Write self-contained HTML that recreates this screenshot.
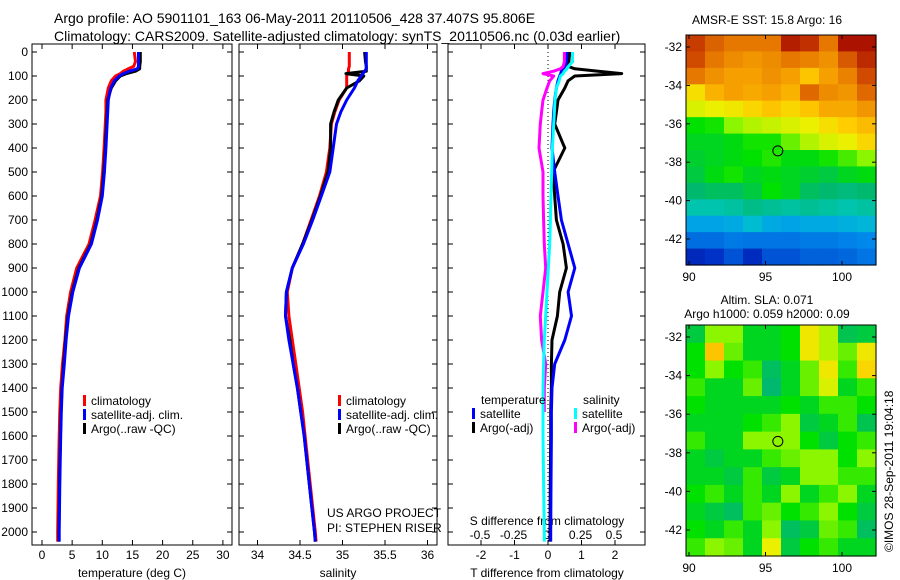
<!DOCTYPE html>
<html><head><meta charset="utf-8"><style>
body{margin:0;background:#fff;}
svg{display:block;font-family:"Liberation Sans",sans-serif;}
</style></head><body>
<svg id="s" width="900" height="580" xmlns="http://www.w3.org/2000/svg"></svg>
<script>
// ---- data ----
const depths=[0,40,60,70,80,90,100,120,150,200,250,300,400,500,600,700,800,900,1000,1100,1200,1300,1400,1500,1600,1800,2000,2040];
const tClim=[15.3,15.5,15.2,14.3,13.5,13,12.2,11.5,11.0,10.6,10.6,10.5,10.3,10.05,9.7,8.8,7.8,5.75,4.75,4.1,3.8,3.4,3.1,2.95,2.85,2.7,2.6,2.6];
const tSat=[16.0,16.0,16.0,15.8,14.5,13.5,12.8,12.0,11.4,11.0,10.9,10.8,10.6,10.35,10.0,9.2,8.2,6.2,5.1,4.4,4.0,3.7,3.35,3.2,3.1,2.95,2.85,2.85];
const tArgo=[16.3,16.3,16.2,16.2,15.5,14,13,12.2,11.5,10.9,10.8,10.7,10.5,10.25,9.9,9.1,8.1,6.1,5.0,4.3,3.9,3.6,3.3,3.15,3.05,2.9,2.8,2.8];
const sClim=[35.08,35.08,35.08,35.07,35.07,35.06,35.05,35.05,35.05,34.96,34.91,34.87,34.85,34.81,34.73,34.63,34.53,34.41,34.35,34.37,34.41,34.45,34.49,34.53,34.56,34.62,34.68,34.69];
const sSat=[35.28,35.28,35.28,35.28,35.26,35.24,35.22,35.18,35.14,35.05,34.98,34.93,34.89,34.85,34.75,34.65,34.54,34.41,34.34,34.33,34.37,34.42,34.47,34.51,34.55,34.61,34.67,34.68];
const sArgo=[35.26,35.27,35.28,35.28,35.28,35.04,35.25,35.2,35.05,34.95,34.9,34.86,34.86,34.83,34.74,34.64,34.53,34.41,34.34,34.33,34.38,34.42,34.47,34.51,34.55,34.61,34.67,34.68];
const dtSat=[0.57,0.55,0.5,0.45,0.4,0.38,0.35,0.3,0.25,0.2,0.17,0.15,0.12,0.2,0.3,0.4,0.6,0.8,0.6,0.7,0.5,0.2,0.12,0.1,0.1,0.09,0.08,0.08];
const dtArgo=[0.65,0.62,0.6,0.8,1.5,2.2,0.8,0.6,0.5,0.3,0.25,0.2,0.5,0.15,0.2,0.25,0.45,0.55,0.35,0.28,0.12,0.1,0.1,0.08,0.08,0.07,0.06,0.06];
const dsSat=[0.19,0.19,0.16,0.15,0.13,0.12,0.1,0.09,0.07,0.06,0.055,0.05,0.04,0.035,0.03,0.025,0.02,0.01,0.0,-0.01,-0.02,-0.025,-0.03,-0.03,-0.03,-0.025,-0.02,-0.02];
const dsArgo=[0.13,0.13,0.12,0.1,0.05,-0.03,0.05,0.02,0.0,-0.03,-0.04,-0.05,-0.06,-0.03,-0.03,-0.025,-0.02,-0.01,-0.03,-0.05,-0.04,-0.01,-0.02,-0.02];
const depthTicks=[0,100,200,300,400,500,600,700,800,900,1000,1100,1200,1300,1400,1500,1600,1700,1800,1900,2000];
const tTicks=[0,5,10,15,20,25,30];
const sTicks=[34,34.5,35,35.5,36];
const dtTicks=[-2,-1,0,1,2];
const dsTicks=[-0.5,-0.25,0,0.25,0.5];
const sstGrid=[
[.9,.85,.82,.82,.82,.95,.92,.82,.97,.97],
[.88,.82,.78,.76,.78,.82,.8,.77,.86,.93],
[.82,.77,.74,.74,.77,.74,.7,.74,.8,.88],
[.67,.72,.74,.73,.74,.72,.84,.78,.76,.84],
[.64,.65,.66,.68,.7,.68,.7,.73,.73,.76],
[.52,.53,.6,.62,.63,.64,.65,.67,.69,.71],
[.5,.5,.51,.53,.53,.58,.62,.64,.65,.68],
[.49,.5,.51,.52,.54,.51,.51,.53,.56,.6],
[.48,.51,.53,.5,.51,.5,.49,.48,.5,.51],
[.45,.46,.46,.48,.52,.5,.46,.45,.44,.45],
[.4,.4,.41,.43,.42,.41,.42,.41,.4,.41],
[.32,.32,.33,.36,.33,.32,.33,.33,.34,.35],
[.24,.24,.26,.25,.25,.25,.26,.26,.27,.28],
[.12,.15,.2,.13,.2,.2,.22,.22,.23,.25]];
const slaGrid=[
[.48,.6,.6,.5,.5,.52,.66,.62,.47,.48],
[.52,.7,.58,.5,.5,.52,.66,.62,.58,.66],
[.52,.6,.52,.55,.46,.5,.58,.66,.55,.68],
[.55,.5,.5,.58,.45,.5,.58,.64,.5,.55],
[.52,.5,.5,.5,.5,.52,.5,.55,.55,.52],
[.5,.5,.5,.52,.55,.6,.48,.5,.55,.47],
[.55,.5,.5,.6,.6,.6,.52,.48,.52,.55],
[.5,.48,.5,.5,.55,.58,.6,.6,.52,.6],
[.5,.5,.48,.55,.48,.5,.6,.6,.55,.55],
[.52,.55,.5,.55,.5,.6,.5,.55,.6,.5],
[.5,.48,.46,.55,.58,.52,.55,.6,.52,.48],
[.52,.5,.55,.5,.6,.46,.48,.58,.55,.46],
[.55,.6,.58,.5,.65,.48,.52,.55,.5,.5]];
const latTicks=[-32,-34,-36,-38,-40,-42];
const lonTicks=[90,95,100];
const argoPos=[95.806,-37.407];

// ---- helpers ----
const S=document.getElementById('s');const NS='http://www.w3.org/2000/svg';
function el(t,a,p){const e=document.createElementNS(NS,t);for(const k in a)e.setAttribute(k,a[k]);(p||S).appendChild(e);return e;}
function txt(x,y,s,o){const e=el('text',Object.assign({x:x,y:y,'font-size':12,fill:'#000'},o||{}));e.textContent=s;return e;}
const Y=d=>52+d*0.24;
const PT={x0:32,x1:232,f:v=>42+v*6.03};
const PS={x0:239,x1:437,f:v=>300+(v-34.5)*85};
const PD={x0:448,x1:645,f:v=>548+v*33.5,g:v=>547+v*134};
const TOP=44,BOT=545;

function panel(P,ticks,fmt,name){
  const b=el('rect',{x:P.x0,y:TOP,width:P.x1-P.x0,height:BOT-TOP,fill:'none',stroke:'#000','stroke-width':1});
  
  depthTicks.forEach(d=>{el('line',{x1:P.x0,x2:P.x0+5,y1:Y(d),y2:Y(d),stroke:'#000'});el('line',{x1:P.x1,x2:P.x1-5,y1:Y(d),y2:Y(d),stroke:'#000'});});
  if(ticks)ticks.forEach(v=>{const x=P.f(v);el('line',{x1:x,x2:x,y1:BOT,y2:BOT-5,stroke:'#000'});el('line',{x1:x,x2:x,y1:TOP,y2:TOP+5,stroke:'#000'});
    const t=txt(x,559,fmt(v),{'text-anchor':'middle'});});
}
function line(vals,fx,color,name){
  const pts=vals.map((v,i)=>fx(v).toFixed(1)+','+Y(depths[i]).toFixed(1)).join(' ');
  const e=el('polyline',{points:pts,fill:'none',stroke:color,'stroke-width':3,'stroke-linejoin':'round'});
  
}
function legItem(x,y,color,label){const g=el('g',{});
  el('rect',{x:x,y:y-10,width:3,height:11,fill:color},g);const t=txt(x+8,y,label);g.appendChild(t);}

// titles
txt(54,23,'Argo profile: AO 5901101_163 06-May-2011 20110506_428 37.407S 95.806E',{'font-size':14});
txt(54,41,'Climatology: CARS2009. Satellite-adjusted climatology: synTS_20110506.nc (0.03d earlier)',{'font-size':14});

depthTicks.forEach(d=>{const t=txt(28,Y(d)+4,String(d),{'text-anchor':'end'});});

// panel 1
panel(PT,tTicks,v=>String(v),'temperature');
line(tClim,PT.f,'#f00','temp-climatology-line');
line(tArgo,PT.f,'#000','temp-argo-line');
line(tSat,PT.f,'#00f','temp-satellite-line');
txt(132,577,'temperature (deg C)',{'text-anchor':'middle'});
legItem(83,405,'#f00','climatology');legItem(83,419,'#00f','satellite-adj. clim.');legItem(83,433,'#000','Argo(..raw -QC)');

// panel 2
panel(PS,sTicks,v=>String(v),'salinity');
line(sClim,PS.f,'#f00','sal-climatology-line');
line(sArgo,PS.f,'#000','sal-argo-line');
line(sSat,PS.f,'#00f','sal-satellite-line');
txt(338,577,'salinity',{'text-anchor':'middle'});
legItem(338,405,'#f00','climatology');legItem(338,419,'#00f','satellite-adj. clim.');legItem(338,433,'#000','Argo(..raw -QC)');
txt(327,517,'US ARGO PROJECT');
txt(327,532,'PI: STEPHEN RISER');

// panel 3
panel(PD,dtTicks,v=>String(v),'difference');
el('line',{x1:548,x2:548,y1:TOP,y2:BOT,stroke:'#000','stroke-dasharray':'1,3'});
dsTicks.forEach(v=>{const t=txt(PD.g(v),539,String(v),{'text-anchor':'middle'});});
txt(547,525,'S difference from climatology',{'text-anchor':'middle'});
txt(547,577,'T difference from climatology',{'text-anchor':'middle'});
line(dtArgo,PD.f,'#000','tdiff-argo-line');
line(dtSat,PD.f,'#00f','tdiff-satellite-line');
line(dsArgo,PD.g,'#f0f','sdiff-argo-line');
line(dsSat,PD.g,'#0ff','sdiff-satellite-line');
txt(481,404,'temperature');
txt(583,404,'salinity');
legItem(472,418,'#00f','satellite');legItem(472,432,'#000','Argo(-adj)');
legItem(574,418,'#0ff','satellite');legItem(574,432,'#f0f','Argo(-adj)');

// maps
const stops=[[0,0,0,130],[.15,0,50,200],[.3,0,150,240],[.38,0,200,200],[.45,0,185,110],[.52,0,225,0],[.6,140,245,0],[.65,235,240,0],[.69,255,205,0],[.74,245,160,0],[.82,230,120,0],[.9,200,60,0],[1,160,0,0]];
function cmap(v){for(let i=1;i<stops.length;i++){if(v<=stops[i][0]){const a=stops[i-1],b=stops[i],t=(v-a[0])/(b[0]-a[0]);return 'rgb('+[1,2,3].map(k=>Math.round(a[k]+t*(b[k]-a[k]))).join(',')+')';}}return 'rgb(160,0,0)';}
function map(grid,x0,x1,y0,y1,lat32,lat42,name){
  const lon=v=>689+(v-90)*15.3, lat=v=>lat32+(v+32)*(lat42-lat32)/(-10);
  const g=el('g',{});
  const R=grid.length,C=grid[0].length,w=(x1-x0)/C,h=(y1-y0)/R;
  grid.forEach((row,r)=>row.forEach((v,c)=>{const e=el('rect',{x:(x0+c*w).toFixed(2),y:(y0+r*h).toFixed(2),width:(w+0.6).toFixed(2),height:(h+0.6).toFixed(2),fill:cmap(v)},g);
    }));
  el('rect',{x:x0,y:y0,width:x1-x0,height:y1-y0,fill:'none',stroke:'#000'});
  latTicks.forEach(v=>{const y=lat(v);el('line',{x1:x0,x2:x0+4,y1:y,y2:y,stroke:'#000'});el('line',{x1:x1,x2:x1-4,y1:y,y2:y,stroke:'#000'});
    const t=txt(x0-4,y+4,String(v),{'text-anchor':'end'});});
  lonTicks.forEach(v=>{const x=lon(v);el('line',{x1:x,x2:x,y1:y1,y2:y1-4,stroke:'#000'});el('line',{x1:x,x2:x,y1:y0,y2:y0+4,stroke:'#000'});
    const t=txt(x,y1+16,String(v),{'text-anchor':'middle'});});
  const c=el('circle',{cx:lon(argoPos[0]),cy:lat(argoPos[1]),r:5,fill:'none',stroke:'#000'});
  
}
txt(767,24,'AMSR-E SST: 15.8 Argo: 16',{'text-anchor':'middle'});
map(sstGrid,686,876,35,265,47,239,'sst-map');
txt(767,304,'Altim. SLA: 0.071',{'text-anchor':'middle'});
txt(767,318,'Argo h1000: 0.059 h2000: 0.09',{'text-anchor':'middle'});
map(slaGrid,686,876,325,556,337,530,'sla-map');
const c=txt(0,0,'©IMOS 28-Sep-2011 19:04:18',{transform:'translate(893,552) rotate(-90)'});
</script>
</body></html>
